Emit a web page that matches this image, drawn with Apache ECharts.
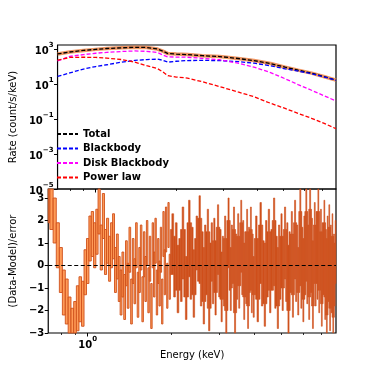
<!DOCTYPE html>
<html><head><meta charset="utf-8">
<script src="https://cdn.jsdelivr.net/npm/echarts@6/dist/echarts.min.js"></script>
<style>html,body{margin:0;padding:0;background:#fff}#c{width:374px;height:374px}</style>
</head><body><div id="c"></div>
<script>
// ---- model curves (energy in keV, rate in count/s/keV) ----
const energyModel = [0.72, 0.8, 0.9, 1.0, 1.1, 1.25, 1.4, 1.55, 1.7, 1.78, 1.86, 2.0, 2.2, 2.5, 2.9, 3.4, 3.9, 4.5, 5.1, 5.7, 6.4, 7.1, 7.9];
const totalRate     = [525, 676, 832, 955, 1072, 1175, 1259, 1230, 1000, 759, 550, 513, 479, 417, 372, 288, 219, 148, 91, 62, 42, 27, 16.6];
const blackbodyRate = [27, 43, 72, 100, 126, 178, 224, 251, 263, 229, 178, 200, 219, 224, 219, 191, 155, 110, 74, 55, 39, 26, 16.2];
const diskRate      = [209, 380, 479, 575, 646, 724, 776, 741, 631, 457, 355, 347, 339, 295, 245, 155, 93, 45, 20, 9.3, 4.4, 2.2, 1.07];
const powerRate     = [229, 331, 339, 331, 302, 251, 178, 112, 76, 50, 30, 25, 22, 13.5, 7.2, 3.5, 1.9, 0.79, 0.40, 0.21, 0.11, 0.058, 0.028];

// ---- residuals ((Data-Model)/error), by channel group ----
const resEnergyLow = [0.72,0.74,0.76,0.78,0.80,0.82,0.84,0.86,0.88,0.90,0.92,0.94,0.96,0.98];
const resLow = [2.9,2.6,2.0,0.9,-0.2,-1.2,-1.6,-2.4,-2.9,-2.6,-1.9,-1.5,-1.7,-0.3];
const resEnergyMid = [1.00,1.02,1.04,1.06,1.08,1.10,1.12,1.14,1.16,1.18,1.20,1.22,1.24,1.26,1.28,1.30,1.32,1.34,1.36,1.38,1.40,1.42,1.44,1.46,1.48,1.50,1.52,1.54,1.56,1.58,1.60,1.62,1.64,1.66,1.68,1.70,1.72,1.74,1.76,1.78,1.80,1.82,1.84,1.86,1.88,1.90,1.92,1.94,1.96,1.98];
const resMid = [0.2,1.2,1.4,0.9,1.5,2.4,0.8,2.2,0.6,1.1,0.3,0.9,1.3,-0.2,0.4,-0.6,-1.2,-0.4,-1.4,0.1,-0.9,0.7,-1.6,0.2,-0.7,0.9,-1.3,-0.2,0.8,-1.5,0.5,-0.6,1.0,-1.1,0.3,-1.8,0.9,-0.4,1.1,-1.2,0.2,-0.8,0.7,-1.6,1.4,-0.3,1.6,-0.9,1.8,-0.5];
const resEnergyHigh1 = [2.00,2.03,2.06,2.09,2.12,2.15,2.18,2.21,2.24,2.27,2.30,2.33,2.36,2.39,2.42,2.45,2.48,2.51,2.54,2.57,2.60,2.63,2.66,2.69,2.72,2.75,2.78,2.81,2.84,2.87,2.90,2.93,2.96,2.99,3.02,3.05,3.08,3.11,3.14,3.17,3.20,3.23,3.26,3.29,3.32,3.35,3.38,3.41,3.44,3.47,3.50,3.53,3.56,3.59,3.62,3.65,3.68,3.71,3.74,3.77,3.80,3.83,3.86,3.89,3.92,3.95,3.98];
const resHigh1 = [0.6,1.3,-0.4,0.9,-1.1,0.2,-0.6,1.6,0.4,-1.4,0.1,1.9,-0.5,0.7,-1.3,-0.2,1.2,0.3,2.1,-0.8,0.5,-1.6,0.8,-0.3,1.5,-1.9,0.0,0.9,-0.7,1.1,-1.2,0.4,1.7,-0.4,0.6,-1.5,0.3,-0.8,1.2,-2.0,0.5,2.0,-0.1,-1.0,0.8,0.2,1.6,-2.1,0.4,-0.5,1.3,-0.9,0.1,1.9,-0.3,1.0,-1.4,0.5,-0.7,1.5,-1.8,0.7,-0.2,1.6,-1.1,0.4,-1.3];
const resEnergyHigh2 = [4.02,4.07,4.12,4.17,4.22,4.27,4.32,4.37,4.42,4.47,4.52,4.57,4.62,4.67,4.72,4.77,4.82,4.87,4.92,4.97,5.02,5.07,5.12,5.17,5.22,5.27,5.32,5.37,5.42,5.47,5.52,5.57,5.62,5.67,5.72,5.77,5.82,5.87,5.92,5.97,6.02,6.07,6.12,6.17,6.22,6.27,6.32,6.37,6.42,6.47,6.52,6.57,6.62,6.67,6.72,6.77,6.82,6.87,6.92,6.97,7.02,7.07,7.12,7.17,7.22,7.27,7.32,7.37,7.42,7.47,7.52,7.57,7.62,7.67,7.72,7.77,7.82,7.87];
const resHigh2 = [-0.3,1.2,-1.5,0.4,1.8,-0.8,0.1,-1.7,1.0,-0.4,1.5,-1.1,0.6,-0.1,2.0,-0.9,0.3,-1.8,0.8,-0.5,1.3,-1.0,0.2,1.6,-0.6,0.9,-2.0,0.5,-0.2,1.4,-1.3,0.3,1.9,-0.6,0.8,-1.2,0.0,2.4,-0.9,0.7,-1.5,1.2,-0.3,2.4,-0.7,0.8,-1.4,2.5,-0.2,1.1,-1.8,0.5,1.8,-0.8,1.4,-0.5,2.4,-1.1,0.2,1.5,-1.7,0.9,-0.3,1.9,-1.4,0.6,-2.2,1.2,-0.6,1.7,-1.9,0.8,-1.1,1.3,-2.3,0.4,-0.8,1.0];
const resError = 1;

// ---- axis ticks ----
const xRange = [0.72, 7.9];
const xMajorTicks = [1];
const xMinorTicks = [0.8, 0.9, 2, 3, 4, 5, 6, 7];
const rateTickExp = [-5, -3, -1, 1, 3];
const rateRangeExp = [-5, 3.23];
const resTicks = [-3, -2, -1, 0, 1, 2, 3];
const resRange = [-3, 3.4];

const L = Math.log10;
const FF = 'DejaVu Sans';
const chart = echarts.init(document.getElementById('c'));

const resE = [].concat(resEnergyLow, resEnergyMid, resEnergyHigh1, resEnergyHigh2);
const resV = [].concat(resLow, resMid, resHigh1, resHigh2);
const nLight = resLow.length + resMid.length;
// each bin: [left edge, right edge, value, prev channel value, next channel value]
// dense channels are joined to their neighbours (step drawing), coarse ones are not
const resData = resE.map((e, i) => {
  const le = L(e);
  const prev = i > 0 ? L(resE[i - 1]) : 2 * le - L(resE[i + 1]);
  const next = i < resE.length - 1 ? L(resE[i + 1]) : 2 * le - L(resE[i - 1]);
  const dense = i >= nLight;
  const pv = (dense && i > nLight) ? resV[i - 1] : resV[i];
  const nv = (dense && i < resE.length - 1) ? resV[i + 1] : resV[i];
  return [(le + prev) / 2, (le + next) / 2, resV[i], pv, nv];
});

function supFmt(v) {
  const n = Math.round(v);
  const s = n < 0 ? '\u2212' + (-n) : String(n);
  return '{b|10}{s|' + s + '}';
}
const supRich = {
  b: {fontSize: 10, fontWeight: 'bold', fontFamily: FF, color: '#000', lineHeight: 14, verticalAlign: 'bottom'},
  s: {fontSize: 7, fontWeight: 'bold', fontFamily: FF, color: '#000', lineHeight: 14, verticalAlign: 'top'}
};

function xAxisPair(grid, withLabel) {
  const base = {gridIndex: grid, type: 'value', min: L(xRange[0]), max: L(xRange[1]), position: 'bottom',
    axisLine: {show: false, onZero: false}, splitLine: {show: false}};
  const major = Object.assign({}, base, {
    axisTick: {show: true, customValues: xMajorTicks.map(L), length: 3.5, lineStyle: {color: '#000', width: 1}},
    axisLabel: withLabel ? {show: true, customValues: xMajorTicks.map(L), formatter: supFmt, rich: supRich, margin: 3} : {show: false}
  });
  if (withLabel) {
    major.name = 'Energy (keV)';
    major.nameLocation = 'middle';
    major.nameGap = 15;
    major.nameTextStyle = {fontSize: 10, fontFamily: FF, color: '#000', verticalAlign: 'top'};
  }
  const minor = Object.assign({}, base, {
    axisTick: {show: true, customValues: xMinorTicks.map(L), length: 2, lineStyle: {color: '#000', width: 0.8}},
    axisLabel: {show: false}
  });
  return [major, minor];
}

function model(name, rates, color, width, type, z) {
  return {
    name: name, type: 'line', xAxisIndex: 0, yAxisIndex: 0, symbol: 'none', z: z,
    data: energyModel.map((e, i) => [L(e), L(rates[i])]),
    lineStyle: {color: color, width: width, type: type},
    itemStyle: {color: color}, silent: true
  };
}

const option = {
  animation: false,
  backgroundColor: '#fff',
  grid: [
    {left: 47, top: 45, width: 289, height: 144, show: true, borderColor: '#000', borderWidth: 1.2, backgroundColor: 'transparent'},
    {left: 47, top: 189, width: 289, height: 144, show: true, borderColor: '#000', borderWidth: 1.2, backgroundColor: 'transparent'}
  ],
  xAxis: [].concat(xAxisPair(0, false), xAxisPair(1, true)),
  yAxis: [
    {gridIndex: 0, type: 'value', min: rateRangeExp[0], max: rateRangeExp[1],
     axisLine: {show: false, onZero: false}, splitLine: {show: false},
     axisTick: {show: true, customValues: rateTickExp, length: 3.5, lineStyle: {color: '#000'}},
     axisLabel: {customValues: rateTickExp, formatter: supFmt, rich: supRich, margin: 4},
     name: 'Rate (count/s/keV)', nameLocation: 'middle', nameGap: 33,
     nameTextStyle: {fontSize: 10, fontFamily: FF, color: '#000'}},
    {gridIndex: 1, type: 'value', min: resRange[0], max: resRange[1],
     axisLine: {show: false, onZero: false}, splitLine: {show: false},
     axisTick: {show: true, customValues: resTicks, length: 3.5, lineStyle: {color: '#000'}},
     axisLabel: {customValues: resTicks, margin: 4, fontSize: 10, fontWeight: 'bold', fontFamily: FF, color: '#000',
       formatter: v => String(v).replace('-', '\u2212')},
     name: '(Data-Model)/error', nameLocation: 'middle', nameGap: 22,
     nameTextStyle: {fontSize: 10, fontFamily: FF, color: '#000'}}
  ],
  legend: {
    data: ['Total', 'Blackbody', 'Disk Blackbody', 'Power law'],
    orient: 'vertical', left: 51, top: 124, itemWidth: 21, itemHeight: 10, itemGap: 4.5,
    itemStyle: {color: 'transparent', borderWidth: 0, opacity: 0},
    textStyle: {fontSize: 10, fontWeight: 'bold', fontFamily: FF, color: '#000'}
  },
  series: [
    model('Data', totalRate, 'rgba(236,130,70,0.85)', 3.5, 'solid', 1),
    model('Total', totalRate, '#000000', 1.3, [4, 2], 3),
    model('Blackbody', blackbodyRate, '#0000ff', 1.3, [4, 2], 4),
    model('Disk Blackbody', diskRate, '#ff00ff', 1.3, [4, 2], 4),
    model('Power law', powerRate, '#ff0000', 1.3, [4, 2], 4),
    {
      name: 'Residuals', type: 'custom', xAxisIndex: 2, yAxisIndex: 1, z: 2, silent: true,
      data: resData,
      dimensions: ['x0', 'x1', 'v', 'pv', 'nv'],
      encode: {x: [0, 1], y: [2, 3, 4]},
      renderItem: function (params, api) {
        const v = api.value(2), pv = api.value(3), nv = api.value(4);
        const top = Math.max(v + resError, pv, nv), bot = Math.min(v - resError, pv, nv);
        const p0 = api.coord([api.value(0), top]);
        const p1 = api.coord([api.value(1), bot]);
        const cs = params.coordSys;
        const x0 = Math.max(p0[0], cs.x), x1 = Math.min(p1[0], cs.x + cs.width);
        const y0 = Math.max(p0[1], cs.y), y1 = Math.min(p1[1], cs.y + cs.height);
        if (x1 <= x0 || y1 <= y0) return null;
        const light = params.dataIndex < nLight;
        return {type: 'rect', shape: {x: x0, y: y0, width: x1 - x0, height: y1 - y0},
          style: {fill: light ? 'rgba(255,145,70,0.9)' : '#cf501c', stroke: '#cf501c', lineWidth: light ? 0.9 : 0.6}};
      },
      markLine: {
        silent: true, symbol: 'none', z: 10,
        lineStyle: {color: '#000', width: 1.2, type: [4, 2.5]},
        label: {show: false},
        data: [{yAxis: 0}]
      }
    }
  ]
};
chart.setOption(option);
</script>
</body></html>
